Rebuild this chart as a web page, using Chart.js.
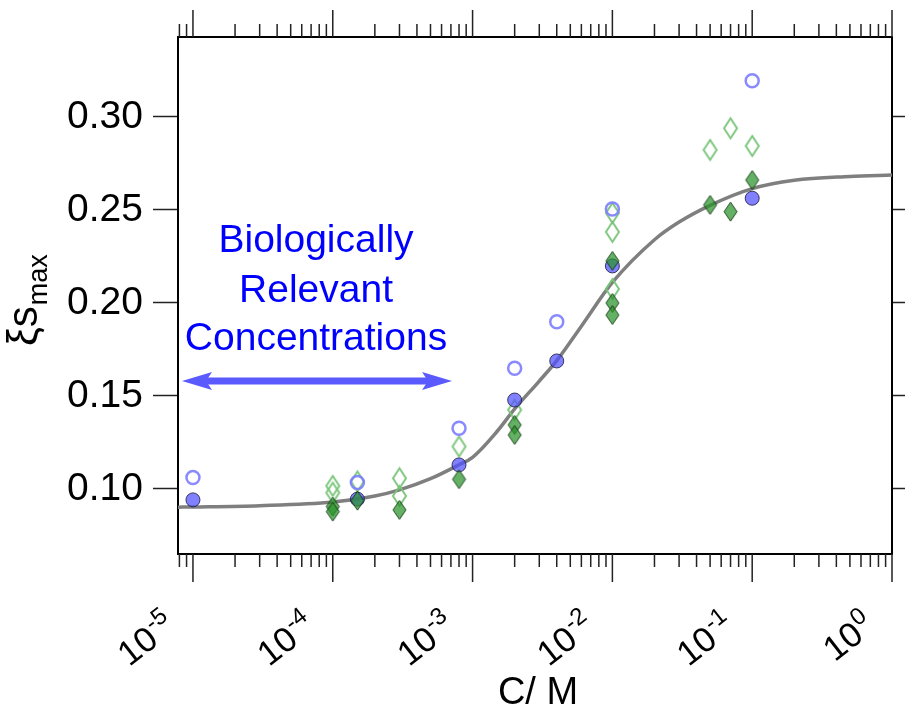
<!DOCTYPE html>
<html><head><meta charset="utf-8">
<script src="https://cdn.jsdelivr.net/npm/chart.js@4.4.1/dist/chart.umd.min.js"></script>
<style>html,body{margin:0;padding:0;background:#fff;}canvas{display:block}</style>
</head><body>
<canvas id="c" width="906" height="715"></canvas>
<script>
// ---- data ----
const concCircles = [1e-5, 1.5e-4, 8e-4, 2e-3, 4e-3, 1e-2, 1e-1];
const xiFilledCircles = [0.0941, 0.0945, 0.1129, 0.1478, 0.1688, 0.2199, 0.2563];
const xiOpenCircles = [0.1061, 0.1034, 0.1326, 0.1649, 0.1899, 0.2505, 0.3195];
const concOpenDiamonds = [1e-4, 1e-4, 1.5e-4, 3e-4, 3e-4, 8e-4, 2e-3, 1e-2, 1e-2, 1e-2, 5e-2, 7e-2, 1e-1];
const xiOpenDiamonds = [0.1016, 0.0980, 0.1040, 0.1057, 0.0962, 0.1228, 0.1425, 0.2484, 0.2382, 0.2075, 0.2823, 0.2939, 0.2844];
const concFilledDiamonds = [1e-4, 1e-4, 1.5e-4, 3e-4, 8e-4, 2e-3, 2e-3, 1e-2, 1e-2, 1e-2, 5e-2, 7e-2, 1e-1];
const xiFilledDiamonds = [0.0905, 0.0878, 0.0937, 0.0887, 0.1052, 0.1344, 0.1290, 0.2226, 0.2000, 0.1935, 0.2527, 0.2491, 0.2661];
const fitConc = [7.8e-6, 1e-5, 3e-5, 1e-4, 2e-4, 3e-4, 5e-4, 8e-4, 1e-3, 1.5e-3, 2e-3, 3e-3, 4e-3, 6e-3, 1e-2, 2e-2, 3e-2, 5e-2, 1e-1, 2e-1, 5e-1, 1];
const fitXi = [0.0902, 0.0903, 0.0910, 0.0930, 0.0962, 0.0995, 0.1055, 0.1130, 0.1170, 0.1310, 0.1430, 0.1580, 0.1690, 0.1875, 0.2110, 0.2340, 0.2435, 0.2525, 0.2615, 0.2660, 0.2680, 0.2688];
const yTickValues = [0.10, 0.15, 0.20, 0.25, 0.30];
const yTickLabels = ['0.10', '0.15', '0.20', '0.25', '0.30'];
const xMajorTicks = [1e-5, 1e-4, 1e-3, 1e-2, 1e-1, 1];
const xTickBase = '10';
const xTickExponents = ['-5', '-4', '-3', '-2', '-1', '0'];
const xTitle = 'C/ M';
const yTitleMain = 'ξs';
const yTitleSub = 'max';
const noteLines = ['Biologically', 'Relevant', 'Concentrations'];

const FONT = '"Liberation Sans", Arial, Helvetica, sans-serif';

function pts(xs, ys) { return xs.map((x, i) => ({x: x, y: ys[i]})); }

function diamond(w, h, fill, stroke, lw) {
  const c = document.createElement('canvas');
  c.width = w + 2 * lw + 2; c.height = h + 2 * lw + 2;
  const g = c.getContext('2d');
  const cx = c.width / 2, cy = c.height / 2;
  g.beginPath();
  g.moveTo(cx, cy - h / 2); g.lineTo(cx + w / 2, cy); g.lineTo(cx, cy + h / 2); g.lineTo(cx - w / 2, cy); g.closePath();
  if (fill) { g.fillStyle = fill; g.fill(); }
  g.lineWidth = lw; g.strokeStyle = stroke; g.stroke();
  return c;
}
const openDiamondImg = diamond(13, 20, null, 'rgba(120,196,120,0.95)', 2);
const filledDiamondImg = diamond(13, 19, 'rgba(40,145,40,0.72)', 'rgba(15,50,15,0.85)', 1);

const decor = {
  id: 'decor',
  afterDraw(chart) {
    const ctx = chart.ctx, xs = chart.scales.x, ca = chart.chartArea;
    ctx.save();
    // x tick marks, bottom and top
    ctx.strokeStyle = '#222'; ctx.lineWidth = 1.5;
    for (let d = -6; d <= 0; d++) {
      for (let m = 1; m <= 9; m++) {
        const v = m * Math.pow(10, d);
        if (v < xs.min * 0.9999 || v > xs.max * 1.0001) continue;
        const px = xs.getPixelForValue(v);
        const major = (m === 1);
        ctx.beginPath();
        ctx.moveTo(px, ca.bottom); ctx.lineTo(px, ca.bottom + (major ? 28 : 13));
        ctx.moveTo(px, ca.top); ctx.lineTo(px, ca.top - (major ? 27 : 13));
        ctx.stroke();
      }
    }
    // x tick labels with superscript exponents, rotated
    const th = 38 * Math.PI / 180;
    ctx.fillStyle = '#000';
    xMajorTicks.forEach((v, i) => {
      const px = xs.getPixelForValue(v);
      const ox = px - 24, oy = 618.6;
      ctx.save();
      ctx.translate(ox, oy); ctx.rotate(-th);
      ctx.textBaseline = 'alphabetic'; ctx.textAlign = 'right';
      ctx.font = '24px ' + FONT;
      const ew = ctx.measureText(xTickExponents[i]).width;
      ctx.fillText(xTickExponents[i], 0, 0);
      ctx.font = '35px ' + FONT;
      ctx.fillText(xTickBase, -ew - 1, 14);
      ctx.restore();
    });
    // x title
    ctx.font = '38px ' + FONT; ctx.textAlign = 'center'; ctx.textBaseline = 'alphabetic';
    ctx.fillText(xTitle, (ca.left + ca.right) / 2 + 3, 704);
    // y title (rotated)
    ctx.save();
    ctx.translate(37, 346); ctx.rotate(-Math.PI / 2);
    ctx.textAlign = 'left';
    ctx.font = '42px ' + FONT;
    const mw = ctx.measureText(yTitleMain).width;
    ctx.fillText(yTitleMain, 0, 0);
    ctx.font = '27px ' + FONT;
    ctx.fillText(yTitleSub, mw + 1, 10);
    ctx.restore();
    // annotation text
    ctx.fillStyle = '#0000ff'; ctx.font = '39px ' + FONT; ctx.textAlign = 'center';
    const bl = [252, 302, 350];
    noteLines.forEach((t, i) => ctx.fillText(t, 316, bl[i]));
    // double arrow
    const ay = 381, x0 = 182, x1 = 452;
    ctx.fillStyle = 'rgb(90,90,255)';
    ctx.fillRect(x0 + 20, ay - 3.5, (x1 - x0) - 40, 7);
    ctx.beginPath();
    ctx.moveTo(x1, ay); ctx.lineTo(x1 - 30, ay - 9); ctx.lineTo(x1 - 24, ay); ctx.lineTo(x1 - 30, ay + 9); ctx.closePath();
    ctx.moveTo(x0, ay); ctx.lineTo(x0 + 30, ay - 9); ctx.lineTo(x0 + 24, ay); ctx.lineTo(x0 + 30, ay + 9); ctx.closePath();
    ctx.fill();
    ctx.restore();
  }
};

new Chart(document.getElementById('c'), {
  type: 'scatter',
  data: {
    datasets: [
      { label: 'fit', type: 'line', data: pts(fitConc, fitXi), showLine: true, pointRadius: 0,
        borderColor: '#7f7f7f', borderWidth: 3.5, cubicInterpolationMode: 'monotone', fill: false, order: 10 },
      { label: 'open diamonds', data: pts(concOpenDiamonds, xiOpenDiamonds), pointStyle: openDiamondImg, order: 6 },
      { label: 'open circles', data: pts(concCircles, xiOpenCircles), pointStyle: 'circle', pointRadius: 6.5,
        borderWidth: 2.5, borderColor: 'rgba(125,125,255,0.9)', backgroundColor: 'rgba(0,0,0,0)', order: 5 },
      { label: 'filled circles', data: pts(concCircles, xiFilledCircles), pointStyle: 'circle', pointRadius: 7,
        borderWidth: 1, borderColor: 'rgba(30,30,70,0.85)', backgroundColor: 'rgba(80,80,255,0.72)', order: 4 },
      { label: 'filled diamonds', data: pts(concFilledDiamonds, xiFilledDiamonds), pointStyle: filledDiamondImg, order: 3 }
    ]
  },
  options: {
    responsive: false, animation: false, devicePixelRatio: 1,
    layout: { padding: 0 },
    plugins: { legend: { display: false }, tooltip: { enabled: false } },
    scales: {
      x: { type: 'logarithmic', position: 'bottom', min: Math.pow(10, -5.107), max: 1,
        ticks: { display: false }, grid: { display: false },
        border: { display: true, color: '#000', width: 2 },
        afterFit: s => { s.height = 161; } },
      x2: { type: 'logarithmic', position: 'top', min: Math.pow(10, -5.107), max: 1,
        ticks: { display: false }, grid: { display: false },
        border: { display: true, color: '#000', width: 2 },
        afterFit: s => { s.height = 37; } },
      y: { type: 'linear', position: 'left', min: 0.065, max: 0.343,
        afterBuildTicks: s => { s.ticks = yTickValues.map(v => ({value: v})); },
        ticks: { callback: (v, i) => yTickLabels[i], color: '#000', padding: 10,
          font: { family: FONT, size: 39 } },
        grid: { drawOnChartArea: false, drawTicks: true, tickLength: 25, tickColor: '#222', tickWidth: 1.5 },
        border: { display: true, color: '#000', width: 2 },
        afterFit: s => { s.width = 178; } },
      y2: { type: 'linear', position: 'right', min: 0.065, max: 0.343,
        afterBuildTicks: s => { s.ticks = yTickValues.map(v => ({value: v})); },
        ticks: { display: false },
        grid: { drawOnChartArea: false, drawTicks: true, tickLength: 13, tickColor: '#222', tickWidth: 1.5 },
        border: { display: true, color: '#000', width: 2 },
        afterFit: s => { s.width = 14; } }
    }
  },
  plugins: [decor]
});
</script>
</body></html>
